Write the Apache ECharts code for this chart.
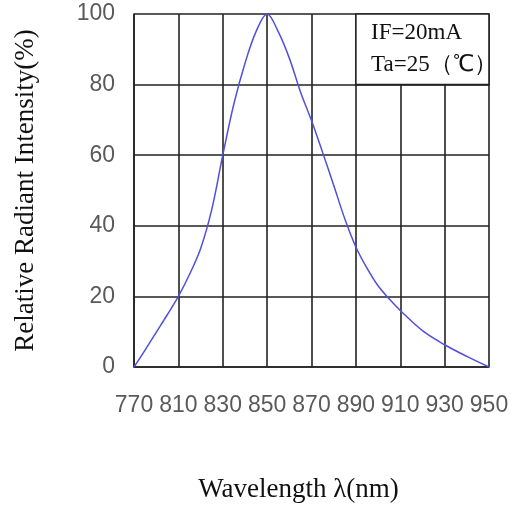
<!DOCTYPE html>
<html>
<head>
<meta charset="utf-8">
<script src="https://cdn.jsdelivr.net/npm/echarts@6/dist/echarts.min.js"></script>
<style>
  html, body { margin: 0; padding: 0; background: #fff; }
  #chart { width: 513px; height: 508px; }
</style>
</head>
<body>
<div id="chart"></div>
<script>
// Spectral curve: wavelength (nm) vs relative radiant intensity (%)
const wavelength = [790, 795, 800, 805, 810, 815, 820, 825, 830, 835, 840, 845, 850, 855, 860, 865, 870, 875, 880, 885, 890, 895, 900, 905, 910, 920, 930, 940, 950];
const intensity  = [0, 4.8, 9.8, 14.8, 20, 26.2, 33.5, 44.5, 60, 74.5, 86, 95, 100, 95, 87.5, 78, 69.8, 60.8, 51.5, 42, 34, 28, 23, 19.3, 16, 10.3, 6.3, 3.0, 0];

// x-axis tick positions and the labels printed under them
const xTicks = [790, 810, 830, 850, 870, 890, 910, 930, 950];
const xTickLabels = ['770', '810', '830', '850', '870', '890', '910', '930', '950'];

// Test-condition note box (spans one grid cell, top right)
const noteBox = { x0: 890, x1: 950, y0: 80, y1: 100 };
const noteLines = ['IF=20mA', 'Ta=25（℃）'];

const chart = echarts.init(document.getElementById('chart'), null, { renderer: 'canvas' });

const gridLine = { color: '#222', width: 1.6 };
const tickFont = { fontFamily: 'Liberation Sans', fontSize: 23, color: '#5a5a5a' };

chart.setOption({
  animation: false,
  backgroundColor: '#fff',
  grid: { left: 134, right: 24, top: 14, bottom: 136 },
  xAxis: {
    type: 'value',
    min: 790, max: 950, interval: 20,
    name: 'Wavelength λ(nm)',
    nameLocation: 'middle',
    nameGap: 109,
    nameTextStyle: { fontFamily: 'Liberation Serif', fontSize: 27, color: '#111', padding: [0, 26, 0, 0] },
    axisLine: { show: true, lineStyle: gridLine },
    axisTick: { show: false },
    axisLabel: {
      margin: 27,
      ...tickFont,
      formatter: v => { const i = xTicks.indexOf(v); return i >= 0 ? xTickLabels[i] : ''; }
    },
    splitLine: { show: true, lineStyle: gridLine }
  },
  yAxis: {
    type: 'value',
    min: 0, max: 100, interval: 20,
    name: 'Relative Radiant Intensity(%)',
    nameLocation: 'middle',
    nameRotate: 90,
    nameGap: 95,
    nameTextStyle: { fontFamily: 'Liberation Serif', fontSize: 27, color: '#111' },
    axisLine: { show: true, lineStyle: gridLine },
    axisTick: { show: false },
    axisLabel: { margin: 19, ...tickFont },
    splitLine: { show: true, lineStyle: gridLine }
  },
  series: [{
    type: 'line',
    data: wavelength.map((w, i) => [w, intensity[i]]),
    smooth: 0.35,
    symbol: 'none',
    lineStyle: { color: '#5050dc', width: 1.5 },
    markArea: {
      silent: true,
      itemStyle: { color: '#fff', borderColor: '#222', borderWidth: 1.6 },
      label: {
        show: true,
        position: [16, 4],
        formatter: noteLines.join('\n'),
        fontFamily: 'Liberation Serif',
        fontSize: 23,
        lineHeight: 32,
        color: '#111'
      },
      data: [[{ coord: [noteBox.x0, noteBox.y1] }, { coord: [noteBox.x1, noteBox.y0] }]]
    }
  }]
});
</script>
</body>
</html>
